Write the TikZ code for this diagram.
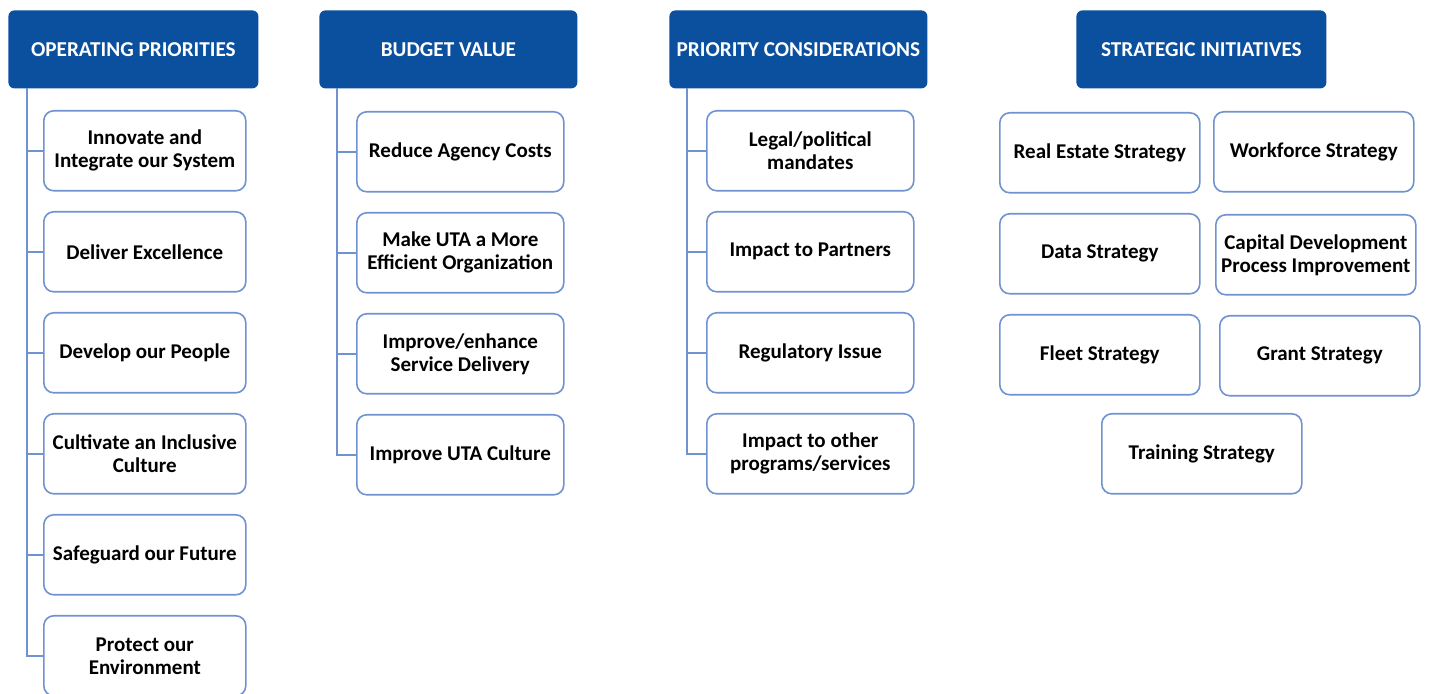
\documentclass[tikz,border=0pt]{standalone}
\usepackage{fontspec}
\setmainfont{Carlito}
\usetikzlibrary{positioning}
\definecolor{hdblue}{RGB}{11,80,158}
\definecolor{boxblue}{RGB}{112,146,208}

\tikzset{
	head/.style={rectangle, rounded corners=3pt, fill=hdblue, text=white,
		font=\bfseries\fontsize{10.6}{12}\selectfont, minimum width=125pt,
		minimum height=39pt, anchor=north west},
	item/.style={rectangle, rounded corners=5pt, draw=boxblue, line width=0.8pt,
		fill=white, font=\bfseries\fontsize{10.5}{11.5}\selectfont, align=center,
		minimum width=101pt, minimum height=40pt, anchor=north west, inner sep=2pt},
	tree/.style={draw=boxblue, line width=0.8pt}
}

\begin{document}
\begin{tikzpicture}[x=0.5pt,y=-0.5pt]
	\useasboundingbox (0,0) rectangle (1430,694);
	% operating priorities
	\node[head] (op) at (8,10) {OPERATING PRIORITIES};
	\node[item] (op1) at (43,110) {Innovate and\\Integrate our System};
	\node[item, below=9.7pt of op1] (op2) {Deliver Excellence};
	\node[item, below=9.7pt of op2] (op3) {Develop our People};
	\node[item, below=9.7pt of op3] (op4) {Cultivate an Inclusive\\Culture};
	\node[item, below=9.7pt of op4] (op5) {Safeguard our Future};
	\node[item, below=9.7pt of op5] (op6) {Protect our\\Environment};
	\coordinate (opt) at (27,88);
	\foreach \i in {1,...,6} \draw[tree] (opt) |- (op\i.west);
	% budget value
	\node[head, minimum width=129pt] (bv) at (319,10) {BUDGET VALUE};
	\node[item, minimum width=103.5pt] (bv1) at (356,111) {Reduce Agency Costs};
	\node[item, minimum width=103.5pt, below=9.7pt of bv1] (bv2) {Make UTA a More\\Efficient Organization};
	\node[item, minimum width=103.5pt, below=9.7pt of bv2] (bv3) {Improve/enhance\\Service Delivery};
	\node[item, minimum width=103.5pt, below=9.7pt of bv3] (bv4) {Improve UTA Culture};
	\coordinate (bvt) at (337,88);
	\foreach \i in {1,...,4} \draw[tree] (bvt) |- (bv\i.west);
	% priority considerations
	\node[head, minimum width=129pt] (pc) at (669,10) {PRIORITY CONSIDERATIONS};
	\node[item, minimum width=103.5pt] (pc1) at (706,110) {Legal/political\\mandates};
	\node[item, minimum width=103.5pt, below=9.7pt of pc1] (pc2) {Impact to Partners};
	\node[item, minimum width=103.5pt, below=9.7pt of pc2] (pc3) {Regulatory Issue};
	\node[item, minimum width=103.5pt, below=9.7pt of pc3] (pc4) {Impact to other\\programs/services};
	\coordinate (pct) at (687,88);
	\foreach \i in {1,...,4} \draw[tree] (pct) |- (pc\i.west);
	% strategic initiatives
	\node[head] (si) at (1076,10) {STRATEGIC INITIATIVES};
	\node[item, minimum width=100pt] (re) at (999,112) {Real Estate Strategy};
	\node[item, minimum width=100pt] (wf) at (1213,111) {Workforce Strategy};
	\node[item, minimum width=100pt] (ds) at (999,213) {Data Strategy};
	\node[item, minimum width=100pt] (cd) at (1215,214) {Capital Development\\Process Improvement};
	\node[item, minimum width=100pt] (fs) at (999,314) {Fleet Strategy};
	\node[item, minimum width=100pt] (gs) at (1219,315) {Grant Strategy};
	\node[item, minimum width=100pt] (ts) at (1101,413) {Training Strategy};
\end{tikzpicture}
\end{document}
